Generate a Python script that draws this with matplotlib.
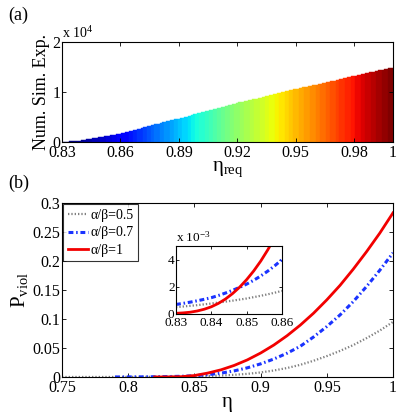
import numpy as np
import matplotlib
matplotlib.use('Agg')
import matplotlib.pyplot as plt
from matplotlib.ticker import FuncFormatter

plt.rcParams['font.family'] = 'serif'
plt.rcParams['font.serif'] = ['Liberation Serif', 'DejaVu Serif']
plt.rcParams['mathtext.fontset'] = 'custom'
plt.rcParams['mathtext.rm'] = 'Liberation Serif'
plt.rcParams['mathtext.it'] = 'Liberation Serif:italic'
plt.rcParams['xtick.direction'] = 'in'
plt.rcParams['ytick.direction'] = 'in'
plt.rcParams['xtick.top'] = True
plt.rcParams['ytick.right'] = True
plt.rcParams['axes.linewidth'] = 0.8

#
# -1- panel (a) : number of simulated experiments vs eta_req (units of 1e4)
#

eta_req = np.round(np.arange(830, 1001) / 1000.0, 3)
sim_exp = np.array([
  0.000, 0.002, 0.005, 0.007, 0.011, 0.013, 0.018, 0.021, 0.026, 0.030,
  0.035, 0.040, 0.047, 0.051, 0.058, 0.064, 0.072, 0.077, 0.086, 0.092,
  0.100, 0.105, 0.113, 0.121, 0.126, 0.135, 0.140, 0.149, 0.155, 0.163,
  0.170, 0.181, 0.188, 0.200, 0.208, 0.220, 0.228, 0.241, 0.249, 0.261,
  0.270, 0.279, 0.291, 0.299, 0.311, 0.319, 0.331, 0.339, 0.351, 0.359,
  0.370, 0.379, 0.391, 0.399, 0.411, 0.419, 0.431, 0.438, 0.452, 0.459,
  0.470, 0.481, 0.489, 0.502, 0.510, 0.521, 0.530, 0.542, 0.551, 0.563,
  0.575, 0.584, 0.596, 0.604, 0.617, 0.626, 0.636, 0.648, 0.657, 0.669,
  0.680, 0.689, 0.701, 0.709, 0.722, 0.730, 0.741, 0.750, 0.762, 0.770,
  0.780, 0.791, 0.797, 0.808, 0.816, 0.827, 0.834, 0.845, 0.852, 0.863,
  0.870, 0.880, 0.887, 0.898, 0.905, 0.916, 0.923, 0.934, 0.941, 0.952,
  0.960, 0.971, 0.980, 0.991, 1.000, 1.011, 1.019, 1.031, 1.039, 1.051,
  1.060, 1.067, 1.076, 1.083, 1.092, 1.099, 1.108, 1.115, 1.124, 1.131,
  1.140, 1.150, 1.158, 1.168, 1.176, 1.186, 1.194, 1.204, 1.212, 1.222,
  1.230, 1.240, 1.248, 1.258, 1.266, 1.276, 1.284, 1.294, 1.302, 1.312,
  1.320, 1.330, 1.338, 1.348, 1.356, 1.366, 1.374, 1.384, 1.392, 1.402,
  1.410, 1.417, 1.426, 1.433, 1.442, 1.449, 1.458, 1.465, 1.474, 1.481,
  1.490])
ticks_a = [0.83, 0.86, 0.89, 0.92, 0.95, 0.98, 1.0]

#
# -2- panel (b) : violation probability, main axes
#     (series are shorter when the curve starts later on the axis)
#

eta = np.round(np.arange(75, 101) / 100.0, 2)
p_05 = [0, 0, 0, 0, 0.00005, 0.0001, 0.0002, 0.0003, 0.0005,
        0.0008, 0.0012, 0.0017, 0.0025, 0.0037, 0.0054, 0.0078, 0.0112, 0.0155, 0.021,
        0.028, 0.036, 0.045, 0.055, 0.067, 0.080, 0.095]
p_07 = [0, 0.0001, 0.0002, 0.0004, 0.0007,
        0.0012, 0.0022, 0.0040, 0.0066, 0.0105, 0.0158, 0.0226, 0.031, 0.041, 0.053,
        0.069, 0.087, 0.107, 0.130, 0.156, 0.184, 0.214]
p_1 = [0, 0.00005,
       0.0005, 0.0025, 0.0067, 0.0123, 0.0199, 0.0295, 0.0413, 0.0551, 0.0712, 0.0895,
       0.110, 0.133, 0.158, 0.186, 0.216, 0.248, 0.283]

# inset (units of 1e-3)
eta_in = np.round(np.arange(830, 861, 2) / 1000.0, 3)
pin_05 = [0.50, 0.55, 0.60, 0.65, 0.71, 0.77, 0.84, 0.91, 0.98, 1.06, 1.14, 1.24, 1.34, 1.45, 1.57, 1.70]
pin_07 = [0.70, 0.78, 0.87, 0.97, 1.08, 1.20, 1.36, 1.54, 1.74, 1.96, 2.20, 2.48, 2.80, 3.16, 3.56, 4.00]
pin_1 = [0.05, 0.08, 0.13, 0.22, 0.35, 0.53, 0.78, 1.10, 1.50, 1.97, 2.53, 3.17, 3.90, 4.73, 5.66, 6.70]

labels = ['α/β=0.5', 'α/β=0.7', 'α/β=1']
styles = [dict(color=(0.5, 0.5, 0.5), ls=(0, (0.6, 0.9)), lw=1.6),
          dict(color=(0.1, 0.2, 1.0), ls=(0, (1.6, 0.9, 0.5, 0.9)), lw=2.2),
          dict(color=(0.95, 0.0, 0.0), ls='-', lw=2.0)]

gfmt = FuncFormatter(lambda v, p: '%g' % round(v, 4))

fig = plt.figure(figsize=(3.99, 4.12), dpi=100)

# panel (a)
axA = fig.add_axes([0.1554, 0.6553, 0.8296, 0.2427])
cmap = plt.get_cmap('jet', 64)
cols = cmap(sim_exp / sim_exp.max())
axA.bar(eta_req, sim_exp, width=0.001, color=cols, edgecolor=cols, linewidth=0.3)
axA.set_xlim(0.83, 1.0); axA.set_ylim(0, 2)
axA.set_xticks(ticks_a); axA.set_yticks([0, 1, 2])
axA.xaxis.set_major_formatter(gfmt)
axA.tick_params(labelsize=11.5, length=3, width=0.6, pad=1)
axA.tick_params(axis='x', pad=2)
axA.set_ylabel('Num. Sim. Exp.', fontsize=13, labelpad=2)
axA.set_xlabel('η$_{\\mathrm{req}}$', fontsize=15, labelpad=-1)
axA.text(0.0, 1.01, 'x 10$^{4}$', transform=axA.transAxes, fontsize=10, va='bottom')
fig.text(8 / 399, 1 - 15 / 412, '(a)', fontsize=13, va='center')

# panel (b)
axB = fig.add_axes([0.1554, 0.0850, 0.8296, 0.4223])
for s, lab, st in zip([p_05, p_07, p_1], labels, styles):
  axB.plot(eta[-len(s):], s, label=lab, **st)
axB.set_xlim(0.75, 1.0); axB.set_ylim(0, 0.3)
axB.set_xticks([0.75, 0.8, 0.85, 0.9, 0.95, 1.0])
axB.set_yticks([0, 0.05, 0.1, 0.15, 0.2, 0.25, 0.3])
axB.xaxis.set_major_formatter(gfmt); axB.yaxis.set_major_formatter(gfmt)
axB.tick_params(labelsize=11.5, length=3, width=0.6, pad=1)
axB.tick_params(axis='x', pad=2)
axB.set_ylabel('P$_{\\mathrm{viol}}$', fontsize=15, labelpad=2)
axB.set_xlabel('η', fontsize=15, labelpad=-2)
leg = axB.legend(loc='upper left', fontsize=10, borderaxespad=0.1, handlelength=1.4,
                 handletextpad=0.2, labelspacing=0.3, borderpad=0.35, fancybox=False)
leg.get_frame().set_edgecolor('black'); leg.get_frame().set_linewidth(0.8)
fig.text(8 / 399, 1 - 183 / 412, '(b)', fontsize=13, va='center')

# inset
axI = fig.add_axes([0.4411, 0.2379, 0.2657, 0.165])
for s, st in zip([pin_05, pin_07, pin_1], styles):
  axI.plot(eta_in, s, **st)
axI.set_xlim(0.83, 0.86); axI.set_ylim(0, 5)
axI.set_xticks([0.83, 0.84, 0.85, 0.86]); axI.set_yticks([0, 2, 4])
axI.xaxis.set_major_formatter(gfmt)
axI.tick_params(labelsize=9.5, length=2.5, width=0.6, pad=1)
axI.tick_params(axis='x', pad=2)
axI.text(0.0, 1.02, 'x 10$^{-3}$', transform=axI.transAxes, fontsize=9.5, va='bottom')

fig.savefig('out.png', dpi=100)
